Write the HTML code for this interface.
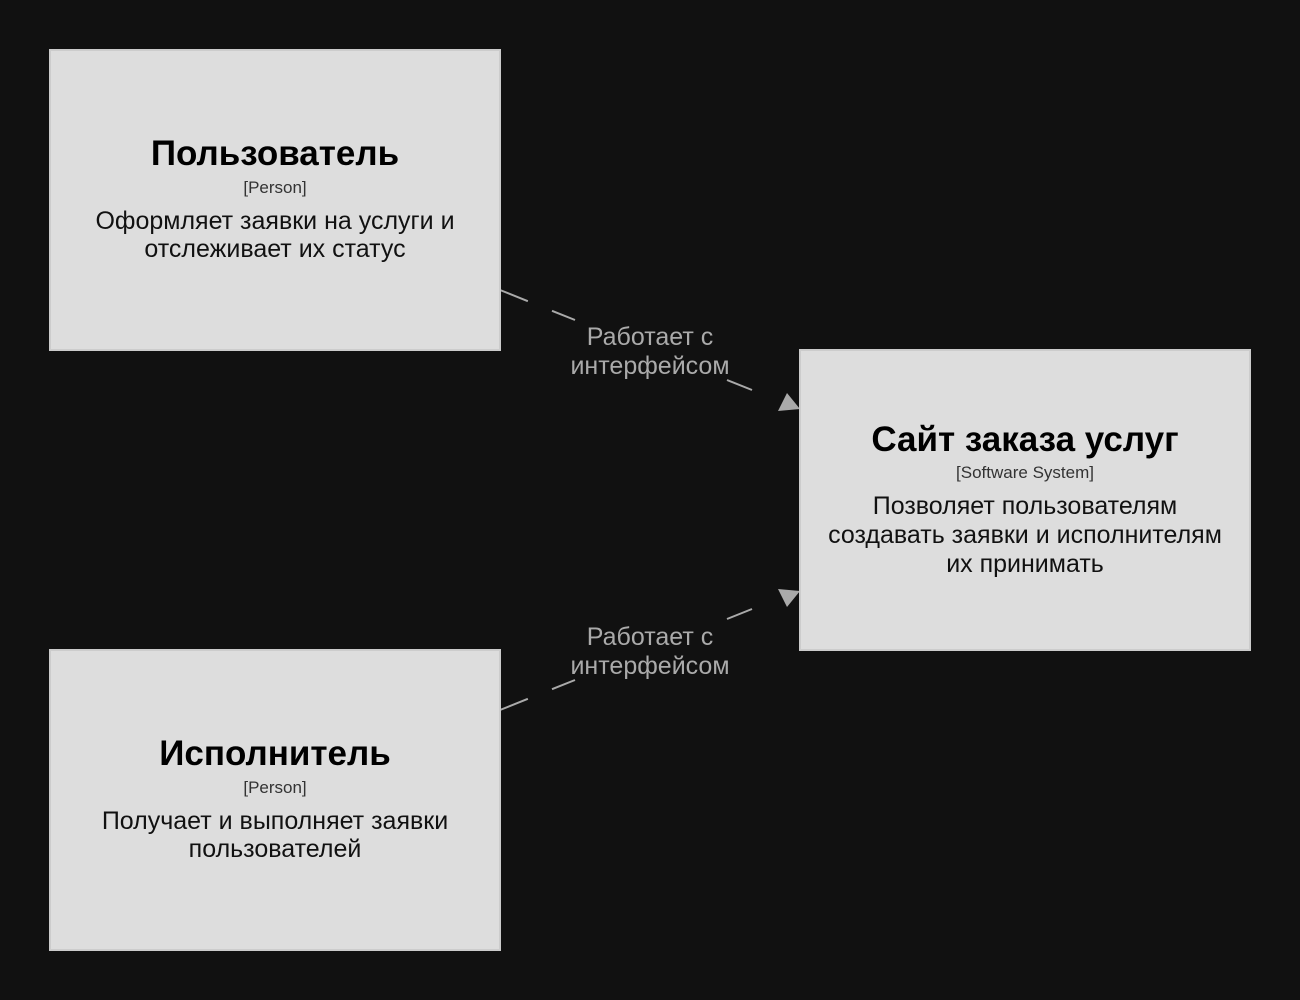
<!DOCTYPE html>
<html><head><meta charset="utf-8"><style>
html,body{margin:0;padding:0;background:#111111;}
svg{display:block;}
text{font-family:"Liberation Sans","Noto Sans CJK SC",sans-serif;}
</style></head><body>
<svg width="1300" height="1000" viewBox="0 0 1300 1000" xmlns="http://www.w3.org/2000/svg">
<rect x="0" y="0" width="1300" height="1000" fill="#111111"/>
<g stroke="#aaaaaa" stroke-width="2" stroke-dasharray="30,26" fill="none">
<line x1="500" y1="290" x2="575" y2="320"/>
<line x1="500" y1="710" x2="575" y2="680"/>
</g>
<line x1="727" y1="380" x2="752" y2="390" stroke="#aaaaaa" stroke-width="2"/>
<line x1="727" y1="619" x2="752" y2="609" stroke="#aaaaaa" stroke-width="2"/>
<polygon points="800,409 778,411 787,393" fill="#aaaaaa"/>
<polygon points="800,591 778,589 787,607" fill="#aaaaaa"/>
<g fill="#aaaaaa" font-size="25" text-anchor="middle">
<text x="650" y="345">Работает с</text>
<text x="650" y="374">интерфейсом</text>
<text x="650" y="645">Работает с</text>
<text x="650" y="674">интерфейсом</text>
</g>
<g fill="#dddddd" stroke="#cccccc" stroke-width="2">
<rect x="50" y="50" width="450" height="300"/>
<rect x="50" y="650" width="450" height="300"/>
<rect x="800" y="350" width="450" height="300"/>
</g>
<g fill="#000000" text-anchor="middle">
<text x="275" y="165" font-size="35" font-weight="bold">Пользователь</text>
<text x="275" y="193" font-size="17" fill="#333">[Person]</text>
<text x="275" y="229" font-size="25" fill="#111">Оформляет заявки на услуги и</text>
<text x="275" y="257" font-size="25" fill="#111">отслеживает их статус</text>

<text x="275" y="765" font-size="35" font-weight="bold">Исполнитель</text>
<text x="275" y="793" font-size="17" fill="#333">[Person]</text>
<text x="275" y="829" font-size="25" fill="#111">Получает и выполняет заявки</text>
<text x="275" y="857" font-size="25" fill="#111">пользователей</text>

<text x="1025" y="451" font-size="35" font-weight="bold">Сайт заказа услуг</text>
<text x="1025" y="478" font-size="17" fill="#333">[Software System]</text>
<text x="1025" y="514" font-size="25" fill="#111">Позволяет пользователям</text>
<text x="1025" y="543" font-size="25" fill="#111">создавать заявки и исполнителям</text>
<text x="1025" y="572" font-size="25" fill="#111">их принимать</text>
</g>
</svg>
</body></html>
